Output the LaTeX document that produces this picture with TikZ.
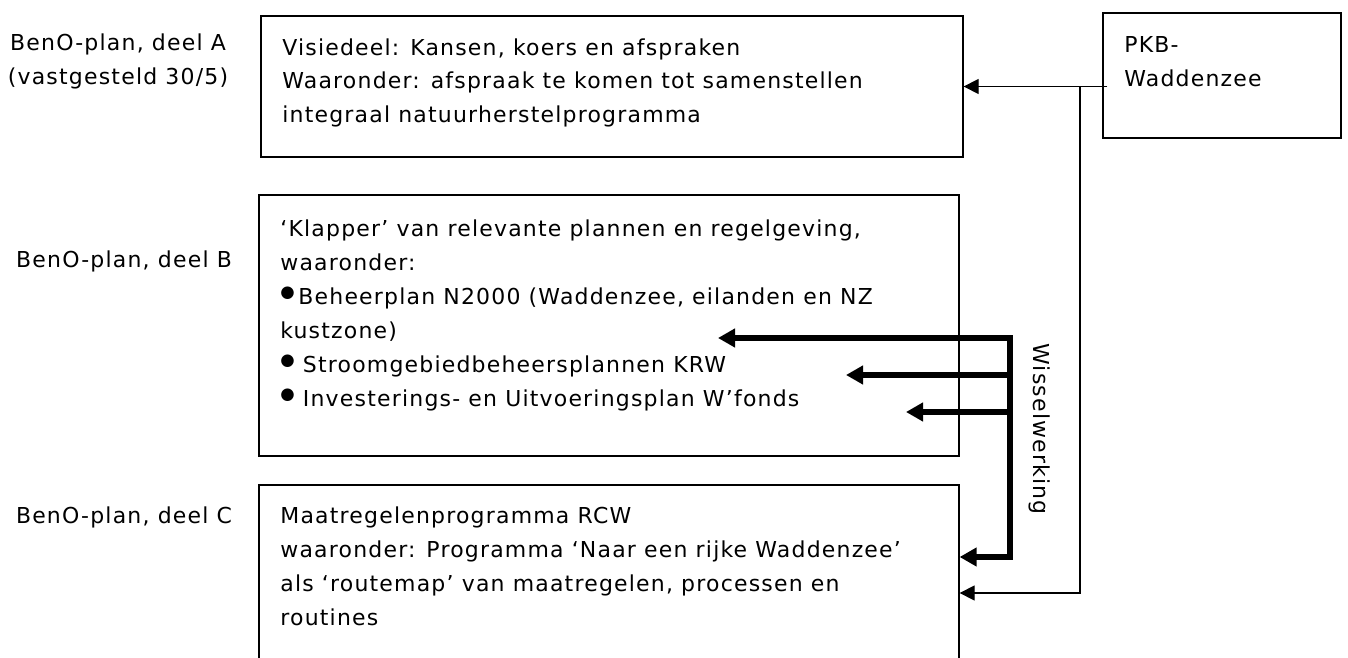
\documentclass[tikz,border=0pt]{standalone}
\usepackage{fontspec}
\setmainfont[LetterSpace=5.5]{DejaVu Sans}
\usetikzlibrary{arrows.meta}
\newcommand{\blt}{\raisebox{0.3em}{\scalebox{0.75}{●}}}
\tikzset{plainbox/.style={draw, line width=0.8pt, inner sep=0pt}}
\tikzset{boxtext/.style={inner sep=0pt, align=left, anchor=base west}}
\tikzset{lbl/.style={inner sep=0pt, align=center}}
\tikzset{thinarrow/.style={line width=0.7pt, -{Triangle[length=0.3cm, width=0.3cm]}}}
\tikzset{thickarrow/.style={line width=2.9pt, -{Triangle[length=0.34cm, width=0.36cm]}}}

\begin{document}
\begin{tikzpicture}[x=0.02cm, y=-0.02cm,
    font=\fontsize{12.5}{19.35}\selectfont]
        \useasboundingbox (0,0) rectangle (1348,658);
        \clip (0,0) rectangle (1348,658);
        % boxes
        \node[plainbox, minimum width=14.04cm, minimum height=2.82cm] (boxA) at (612,86.5) {};
        \node[plainbox, minimum width=14cm, minimum height=5.22cm] (boxB) at (609,325.5) {};
        \node[plainbox, minimum width=14cm, minimum height=4.7cm] (boxC) at (609,602.5) {};
        \node[plainbox, minimum width=4.76cm, minimum height=2.5cm] (pkb) at (1222,75.5) {};
        % texts (placed by the baseline of their last line)
        \node[boxtext] (txtA) at (282,123) {Visiedeel: Kansen, koers en afspraken\\
            Waaronder: afspraak te komen tot samenstellen\\
            integraal natuurherstelprogramma};
        \node[boxtext] (txtB) at (280,406) {‘Klapper’ van relevante plannen en regelgeving,\\
            waaronder:\\
            \blt\,Beheerplan N2000 (Waddenzee, eilanden en NZ\\
            kustzone)\\
            \blt\ Stroomgebiedbeheersplannen KRW\\
            \blt\ Investerings- en Uitvoeringsplan W’fonds};
        \node[boxtext] (txtC) at (280,625) {Maatregelenprogramma RCW\\
            waaronder: Programma ‘Naar een rijke Waddenzee’\\
            als ‘routemap’ van maatregelen, processen en\\
            routines};
        \node[boxtext] (txtP) at (1124,87) {PKB-\\Waddenzee};
        \node[lbl, anchor=base] (labA) at (118,85) {BenO-plan, deel A\\(vastgesteld 30/5)};
        \node[lbl, anchor=base] (labB) at (124,268) {BenO-plan, deel B};
        \node[lbl, anchor=base] (labC) at (124,523) {BenO-plan, deel C};
        \node[lbl, rotate=-90] (wissel) at (1040,429) {Wisselwerking};
        % thin connectors from PKB
        \coordinate (split) at (1080,86.5);
        \coordinate (cbend) at (1080,593);
        \draw[thinarrow] ([xshift=0.1cm]pkb.west |- boxA.east) -- (boxA.east);
        \draw[thinarrow] (split) -- (cbend) -- (cbend -| boxC.east);
        % thick connectors
        \coordinate (wtop) at (1010,338);
        \coordinate (wbot) at (1010,557);
        \coordinate (tipA) at (718,338);
        \coordinate (tipB) at (846,375);
        \coordinate (tipC) at (906,412);
        \draw[thickarrow, {Triangle[length=0.34cm, width=0.36cm]}-{Triangle[length=0.34cm, width=0.36cm]}]
            (tipA) -- (wtop) -- (wbot) -- (wbot -| boxC.east);
        \draw[thickarrow] (wtop |- tipB) -- (tipB);
        \draw[thickarrow] (wtop |- tipC) -- (tipC);
\end{tikzpicture}
\end{document}
